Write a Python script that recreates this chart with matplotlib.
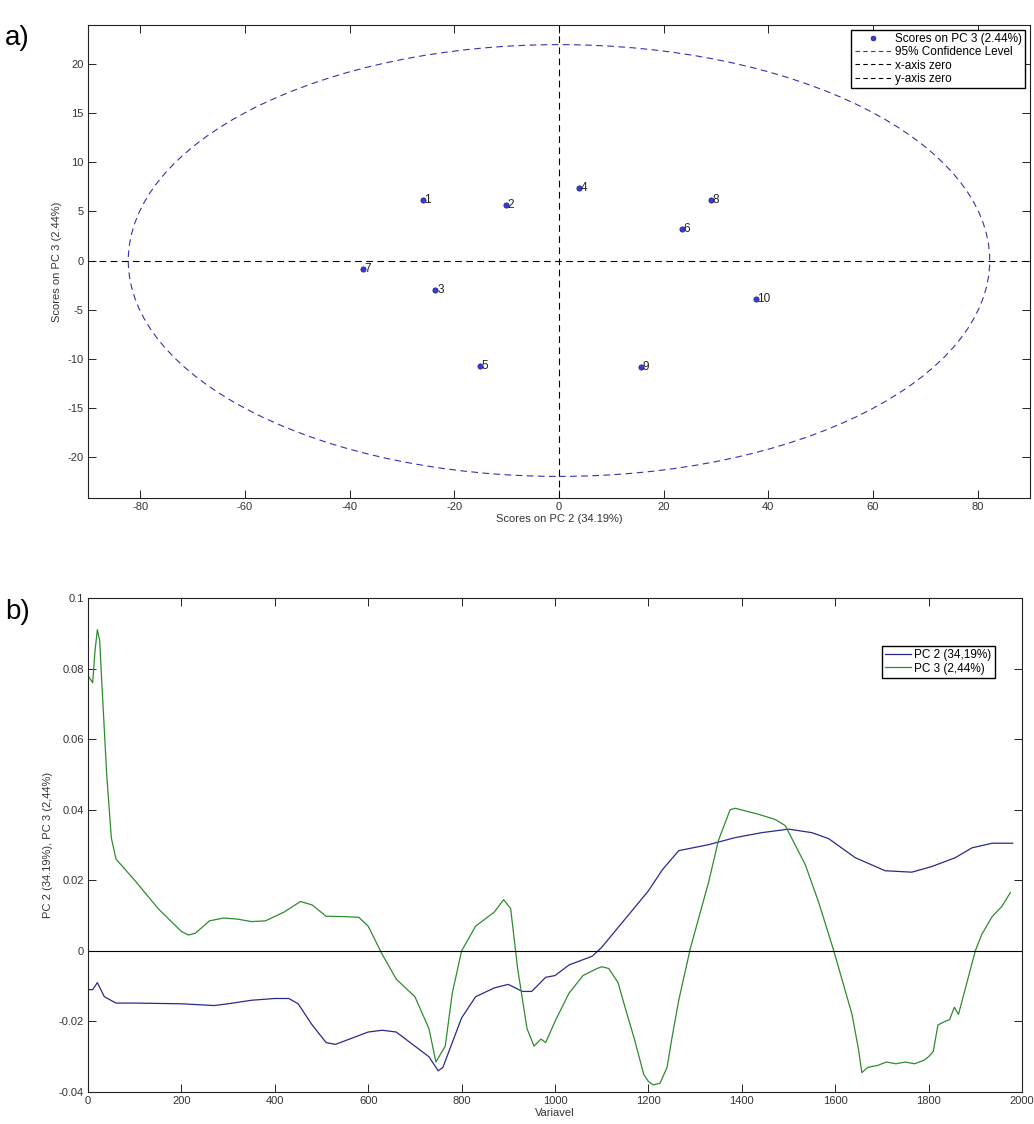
import numpy as np
import matplotlib
matplotlib.use("Agg")
import matplotlib.pyplot as plt
from matplotlib.patches import Ellipse
from matplotlib.lines import Line2D
from matplotlib.ticker import FuncFormatter

plt.rcParams['font.family'] = ['Liberation Sans', 'DejaVu Sans']
plt.rcParams['axes.unicode_minus'] = False

# panel a: scores
sample_ids = ['1', '2', '3', '4', '5', '6', '7', '8', '9', '10']
pc2_scores = [-26.0, -10.1, -23.6, 3.9, -15.1, 23.5, -37.5, 29.1, 15.6, 37.6]
pc3_scores = [6.2, 5.7, -3.0, 7.4, -10.7, 3.2, -0.85, 6.15, -10.8, -3.95]
conf_rx = 82.3
conf_ry = 22.0

# panel b: loadings
pc2_var = [0, 10, 20, 35, 60, 100, 200, 270, 300, 350, 400, 430, 450, 480, 510, 530,
           560, 600, 630, 660, 700, 730, 750, 760, 780, 800, 830, 870, 900, 930, 950,
           980, 1000, 1030, 1080, 1100, 1150, 1200, 1230, 1265, 1329, 1386, 1443, 1500,
           1550, 1586, 1643, 1707, 1764, 1807, 1857, 1893, 1936, 1980]
pc2_load = [-0.011, -0.011, -0.009, -0.013, -0.0148, -0.0148, -0.015, -0.0155, -0.015,
            -0.014, -0.0135, -0.0135, -0.015, -0.021, -0.026, -0.0265, -0.025, -0.023,
            -0.0225, -0.023, -0.027, -0.030, -0.034, -0.033, -0.026, -0.019, -0.013,
            -0.0105, -0.0095, -0.0115, -0.0115, -0.0075, -0.007, -0.004, -0.0015, 0.001,
            0.009, 0.017, 0.023, 0.0284, 0.0301, 0.0321, 0.0335, 0.0345, 0.0335, 0.0318,
            0.0264, 0.0227, 0.0223, 0.0239, 0.0264, 0.0292, 0.0305, 0.0305]

pc3_var = [0, 5, 10, 15, 20, 25, 30, 40, 50, 60, 80, 100, 150, 200, 215, 230, 260, 290,
           320, 350, 380, 420, 455, 480, 510, 550, 580, 600, 630, 660, 700, 730, 745,
           765, 780, 800, 830, 870, 890, 905, 920, 940, 955, 970, 980, 1000, 1030, 1060,
           1090, 1100, 1115, 1135, 1150, 1170, 1190, 1200, 1210, 1225, 1240, 1250, 1265,
           1290, 1329, 1350, 1375, 1386, 1436, 1472, 1493, 1536, 1565, 1597, 1636, 1650,
           1657, 1670, 1690, 1710, 1730, 1750, 1770, 1790, 1800, 1810, 1820, 1835, 1845,
           1855, 1864, 1900, 1914, 1936, 1957, 1975]
pc3_load = [0.078, 0.077, 0.076, 0.085, 0.091, 0.088, 0.075, 0.050, 0.032, 0.026, 0.023,
            0.020, 0.012, 0.0055, 0.0045, 0.005, 0.0085, 0.0093, 0.009, 0.0083, 0.0085,
            0.011, 0.014, 0.013, 0.0098, 0.0097, 0.0095, 0.007, -0.001, -0.008, -0.013,
            -0.022, -0.0315, -0.027, -0.012, 0.0, 0.007, 0.011, 0.0145, 0.012, -0.005,
            -0.022, -0.027, -0.025, -0.026, -0.020, -0.012, -0.007, -0.005, -0.0045,
            -0.005, -0.009, -0.016, -0.025, -0.035, -0.037, -0.038, -0.0375, -0.033,
            -0.025, -0.014, 0.0008, 0.0195, 0.0313, 0.040, 0.0404, 0.0387, 0.0372, 0.0355,
            0.0244, 0.0136, 0.0, -0.018, -0.028, -0.0345, -0.033, -0.0325, -0.0315, -0.032,
            -0.0315, -0.032, -0.031, -0.030, -0.0285, -0.021, -0.020, -0.0195, -0.016,
            -0.018, 0.0, 0.0047, 0.0097, 0.0126, 0.0165]

blue_pts = '#3a3ad8'
blue_ell = '#3333aa'
navy = '#2a2a8a'
green = '#2e8b2e'
dash = (0, (6, 4))

fig = plt.figure(figsize=(10.34, 11.24), dpi=100)

# ---------------- a) ----------------
ax1 = fig.add_axes([88/1034, 1 - 498/1124, 942/1034, 473/1124])
ax1.plot(pc2_scores, pc3_scores, 'o', ms=3.8, mfc=blue_pts, mec='#202080', mew=0.5,
         zorder=3)
for sid, xs, ys in zip(sample_ids, pc2_scores, pc3_scores):
    ax1.text(xs + 0.3, ys, sid, fontsize=8.5, va='center', ha='left', color='#222222')
ell = Ellipse((0, 0), 2 * conf_rx, 2 * conf_ry, fill=False, ec=blue_ell, lw=0.8,
              linestyle=dash)
ax1.add_patch(ell)
ax1.axhline(0, color='k', lw=0.8, linestyle=dash)
ax1.axvline(0, color='k', lw=0.8, linestyle=dash)
ax1.set_xlim(-90, 90)
ax1.set_ylim(-24.2, 24)
ax1.set_xticks(np.arange(-80, 81, 20))
ax1.set_yticks(np.arange(-20, 21, 5))
ax1.set_xlabel('Scores on PC 2 (34.19%)', fontsize=8, labelpad=1, color='#333333')
ax1.set_ylabel('Scores on PC 3 (2.44%)', fontsize=8, labelpad=4, color='#333333')
handles = [
    Line2D([], [], marker='o', ls='none', ms=3.5, mfc=blue_pts, mec='#202080', mew=0.5),
    Line2D([], [], color=blue_ell, lw=0.8, linestyle=(0, (4, 3))),
    Line2D([], [], color='k', lw=0.8, linestyle=(0, (4, 3))),
    Line2D([], [], color='k', lw=0.8, linestyle=(0, (4, 3))),
]
ax1.legend(handles, ['Scores on PC 3 (2.44%)', '95% Confidence Level', 'x-axis zero',
                     'y-axis zero'],
           loc='upper right', fontsize=8.5, fancybox=False, edgecolor='k', framealpha=1,
           borderpad=0.3, labelspacing=0.1, handlelength=3.2, handletextpad=0.2,
           borderaxespad=0.4)

# ---------------- b) ----------------
ax2 = fig.add_axes([88/1034, 1 - 1092/1124, 934/1034, 494/1124])
ax2.plot(pc2_var, pc2_load, color=navy, lw=0.9, label='PC 2 (34,19%)')
ax2.plot(pc3_var, pc3_load, color=green, lw=0.9, label='PC 3 (2,44%)')
ax2.axhline(0, color='k', lw=0.8)
ax2.set_xlim(0, 2000)
ax2.set_ylim(-0.04, 0.1)
ax2.set_xticks(np.arange(0, 2001, 200))
ax2.set_yticks(np.arange(-0.04, 0.101, 0.02))
ax2.yaxis.set_major_formatter(FuncFormatter(lambda v, p: '%g' % round(v, 3)))
ax2.set_xlabel('Variavel', fontsize=8, labelpad=1, color='#333333')
ax2.set_ylabel('PC 2 (34.19%), PC 3 (2,44%)', fontsize=8, labelpad=4, color='#333333')
ax2.legend(loc='upper right', bbox_to_anchor=(0.977, 0.915), fontsize=8.5, fancybox=False,
           edgecolor='k', framealpha=1, borderpad=0.3, labelspacing=0.1,
           handlelength=2.2, handletextpad=0.2)

for ax in (ax1, ax2):
    ax.tick_params(direction='in', top=True, right=True, length=6, width=0.6,
                   labelsize=8, labelcolor='#333333', pad=3)
    for s in ax.spines.values():
        s.set_linewidth(0.8)
        s.set_color('#222222')

fig.text(5/1034, 1 - 38/1124, 'a)', fontsize=20, va='center', ha='left')
fig.text(5/1034, 1 - 612/1124, 'b)', fontsize=20, va='center', ha='left')

fig.savefig('out.png', dpi=100)
